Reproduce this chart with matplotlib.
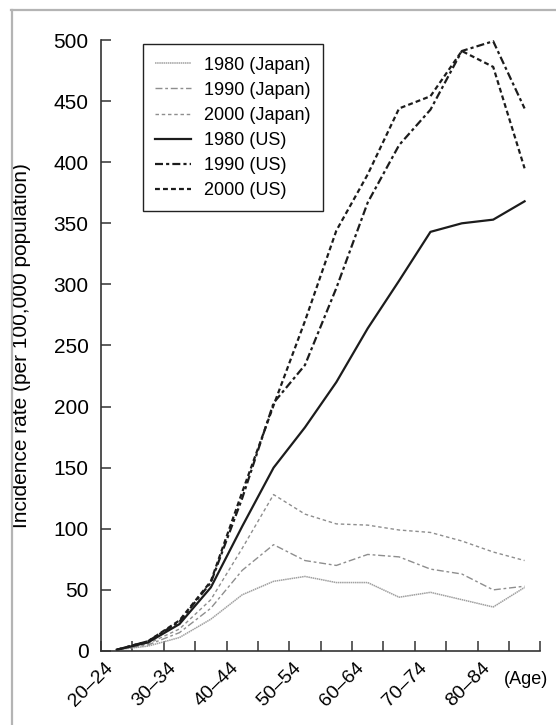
import numpy as np
import matplotlib.pyplot as plt
from matplotlib.lines import Line2D

plt.rcParams['font.family'] = ['Liberation Sans', 'DejaVu Sans']

# Age groups (5-year bands) and incidence per 100,000
age_groups = ['20–24', '25–29', '30–34', '35–39', '40–44', '45–49', '50–54',
              '55–59', '60–64', '65–69', '70–74', '75–79', '80–84', '85+']

japan_1980 = [1, 4, 11, 26, 46, 57, 61, 56, 56, 44, 48, 42, 36, 52]
japan_1990 = [1, 5, 15, 35, 66, 87, 74, 70, 79, 77, 67, 63, 50, 53]
japan_2000 = [1, 6, 18, 42, 84, 128, 112, 104, 103, 99, 97, 90, 81, 74]
us_1980 = [1, 7, 22, 52, 102, 150, 183, 220, 264, 303, 343, 350, 353, 368]
us_1990 = [1, 8, 24, 56, 125, 203, 234, 297, 367, 414, 443, 491, 499, 444]
us_2000 = [1, 8, 25, 57, 130, 201, 270, 344, 390, 444, 454, 491, 478, 395]

fig = plt.figure(figsize=(5.56, 7.25), dpi=100)
ax = fig.add_axes([0.1817, 0.1021, 0.79, 0.8427])

x = np.arange(len(age_groups)) + 0.5
jp = '#8e8e8e'
us = '#1c1c1c'

ax.plot(x, japan_1980, color='#a0a0a0', lw=1.1, ls=(0, (1, 0.4)), label='1980 (Japan)')
ax.plot(x, japan_1990, color=jp, lw=1.0, ls=(0, (5, 2, 2, 2)), label='1990 (Japan)')
ax.plot(x, japan_2000, color=jp, lw=1.0, ls=(0, (2.5, 2)), label='2000 (Japan)')
ax.plot(x, us_1980, color=us, lw=1.6, ls='-', label='1980 (US)')
ax.plot(x, us_1990, color=us, lw=1.6, ls=(0, (3.6, 1.4, 1.4, 1.4)), label='1990 (US)')
ax.plot(x, us_2000, color=us, lw=1.6, ls=(0, (2.2, 1.4)), label='2000 (US)')

ax.set_xlim(0, len(age_groups))
ax.set_ylim(0, 500)
ax.set_yticks(np.arange(0, 501, 50))

# boundary ticks on the axis, labels under every other band
ax.set_xticks(np.arange(len(age_groups) + 1))
ax.set_xticklabels([])
ax.set_xticks(x[::2], minor=True)
ax.set_xticklabels(age_groups[::2], minor=True, rotation=45, ha='right', va='top')
ax.tick_params(axis='x', which='minor', length=0, pad=6, labelsize=14)
ax.tick_params(axis='x', which='major', direction='in', length=7, width=1.1, color='#333333')
ax.tick_params(axis='y', direction='in', length=7, width=1.1, color='#333333', pad=9, labelsize=15)

for side in ['top', 'right']:
    ax.spines[side].set_visible(False)
for side in ['left', 'bottom']:
    ax.spines[side].set_linewidth(1.2)
    ax.spines[side].set_color('#333333')

ax.set_ylabel('Incidence rate (per 100,000 population)', fontsize=15)
ax.yaxis.set_label_coords(-0.159, 0.5)

fig.text(526 / 556, 1 - 679 / 725, '(Age)', ha='center', va='center', fontsize=13)

leg = ax.legend(loc='upper left', bbox_to_anchor=(0.095, 0.993), borderaxespad=0,
                fontsize=13, handlelength=2.0, handletextpad=0.7, labelspacing=0.45,
                borderpad=0.68, fancybox=False, framealpha=1, edgecolor='#222222')
leg.get_frame().set_linewidth(1.0)

# grey frame around the figure
fig.add_artist(Line2D([11 / 556, 1], [1 - 10 / 725, 1 - 10 / 725], color='#b4b4b4', lw=1.6))
fig.add_artist(Line2D([11.7 / 556, 11.7 / 556], [0, 1 - 10 / 725], color='#b4b4b4', lw=1.6))

fig.savefig('out.png', dpi=100)
